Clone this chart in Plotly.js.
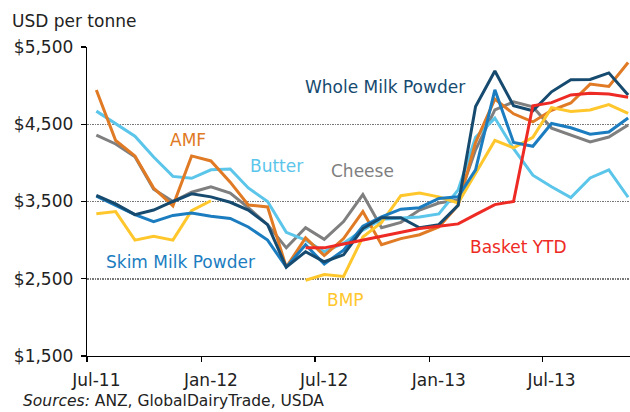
<!DOCTYPE html>
<html><head><meta charset="utf-8">
<script src="https://cdn.plot.ly/plotly-3.0.1.min.js"></script>
<style>html,body{margin:0;padding:0;background:#fff}#chart{width:630px;height:412px}</style>
</head><body><div id="chart"></div>
<script>
// Monthly observations (plotted mid-month), Jul-2011 .. Nov-2013
const months = ['2011-07-16','2011-08-16','2011-09-16','2011-10-16','2011-11-16','2011-12-16',
  '2012-01-16','2012-02-16','2012-03-16','2012-04-16','2012-05-16','2012-06-16',
  '2012-07-16','2012-08-16','2012-09-16','2012-10-16','2012-11-16','2012-12-16',
  '2013-01-16','2013-02-16','2013-03-16','2013-04-16','2013-05-16','2013-06-16',
  '2013-07-16','2013-08-16','2013-09-16','2013-10-16','2013-11-16'];
const tickBoundaries = ['2011-07-01','2012-01-01','2012-07-01','2013-01-01','2013-07-01'];
const labelMonths = ['2011-07-16','2012-01-16','2012-07-16','2013-01-16','2013-07-16'];
const tickLabels = ['Jul-11','Jan-12','Jul-12','Jan-13','Jul-13'];
const yTickVals = [1500,2500,3500,4500,5500];
const yTickText = ['$1,500','$2,500','$3,500','$4,500','$5,500'];

const cheese = [4360,4245,4080,3660,3500,3620,3690,3610,3420,3200,2900,3160,3010,3240,3590,3160,3230,3390,3480,3520,4170,4685,4790,4725,4450,4360,4270,4335,4490];
const butter = [4670,4510,4345,4075,3825,3800,3910,3920,3675,3500,3100,3000,2850,2960,3130,3270,3290,3300,3340,3650,4330,4580,4185,3840,3690,3550,3805,3910,3555];
const amf = [4944,4290,4090,3675,3443,4090,4025,3750,3455,3430,2650,3030,2800,3020,3370,2940,3020,3070,3170,3450,4265,4825,4635,4530,4680,4775,5020,4990,5300];
const smp = [3570,3450,3330,3240,3320,3350,3310,3280,3170,3000,2650,2940,2690,2870,3180,3300,3400,3420,3540,3560,3910,4945,4265,4215,4510,4455,4370,4400,4580];
const bmp = [3340,3370,3000,3050,3000,3380,3510,null,null,null,null,2480,2555,2530,3040,3230,3575,3610,3560,3480,3870,4290,4195,4330,4715,4665,4685,4755,4640];
const wmp = [3580,3470,3330,3390,3500,3600,3560,3490,3390,3200,2650,2850,2720,2810,3150,3290,3290,3160,3200,3450,4730,5190,4740,4675,4920,5075,5080,5165,4880];
const basket = [null,null,null,null,null,null,null,null,null,null,null,2900,2900,2950,3000,3050,3100,3150,3180,3210,3330,3460,3500,4740,4780,4880,4900,4890,4850];

const seriesNames = ['Cheese','Butter','AMF','BMP','Skim Milk Powder','Whole Milk Powder','Basket YTD'];
const seriesData = [cheese,butter,amf,bmp,smp,wmp,basket];
const seriesColors = ['#7f7f7f','#5bc5ea','#e07a24','#ffc72c','#1b7dbf','#164a6f','#ee2a24'];

const traces = seriesData.map((d,i)=>({
  type:'scatter', mode:'lines', x:months, y:d, name:seriesNames[i],
  line:{color:seriesColors[i], width:3}, connectgaps:false, hoverinfo:'skip'
}));

const F = 'DejaVu Sans, Verdana, sans-serif';
function lab(text, px, py, color){
  return {text:text, xref:'paper', yref:'paper', x:(px-87)/543, y:(356-py)/309,
    xanchor:'center', yanchor:'middle', showarrow:false, font:{family:F, size:17, color:color}};
}
const annotations = [
  lab('Whole Milk Powder',385,87,'#164a6f'),
  lab('AMF',188,140,'#e07a24'),
  lab('Butter',276,166,'#5bc5ea'),
  lab('Cheese',362,171,'#7f7f7f'),
  lab('Skim Milk Powder',180,262,'#1b7dbf'),
  lab('BMP',345,300,'#ffc72c'),
  lab('Basket YTD',518,247,'#ee2a24'),
  {text:'USD per tonne', xref:'paper', yref:'paper', x:(10-87)/543, y:(356-21)/309,
   xanchor:'left', yanchor:'middle', showarrow:false, font:{family:F, size:17, color:'#222'}},
  {text:'<i>Sources:</i> ANZ, GlobalDairyTrade, USDA', xref:'paper', yref:'paper', x:(21-87)/543, y:(356-401)/309,
   xanchor:'left', yanchor:'middle', showarrow:false, font:{family:F, size:15.5, color:'#222'}}
];

const layout = {
  width:630, height:412, margin:{l:87, r:0, t:47, b:56},
  paper_bgcolor:'#fff', plot_bgcolor:'#fff', showlegend:false,
  font:{family:F, size:17, color:'#222'},
  xaxis:{type:'date', range:['2011-07-01','2013-11-19'], tickmode:'array', tickvals:labelMonths, ticktext:tickLabels,
    ticks:'', ticklabelstandoff:8, showgrid:false, showline:true, linecolor:'#000', linewidth:1.3, zeroline:false,
    tickfont:{family:F, size:17, color:'#222'},
    minor:{tickmode:'array', tickvals:tickBoundaries, ticks:'outside', ticklen:5, tickwidth:1.3, tickcolor:'#000', showgrid:false}},
  yaxis:{range:[1500,5500], tickmode:'array', tickvals:yTickVals, ticktext:yTickText,
    ticks:'outside', ticklen:5, tickwidth:1.3, tickcolor:'#000', ticklabelstandoff:4,
    showline:true, linecolor:'#000', linewidth:1.3, zeroline:false,
    showgrid:true, gridcolor:'#777', gridwidth:1.5, griddash:'1.5px,1px',
    tickfont:{family:F, size:17, color:'#222'}},
  annotations:annotations
};
Plotly.newPlot('chart', traces, layout, {staticPlot:true, displayModeBar:false});
</script></body></html>
